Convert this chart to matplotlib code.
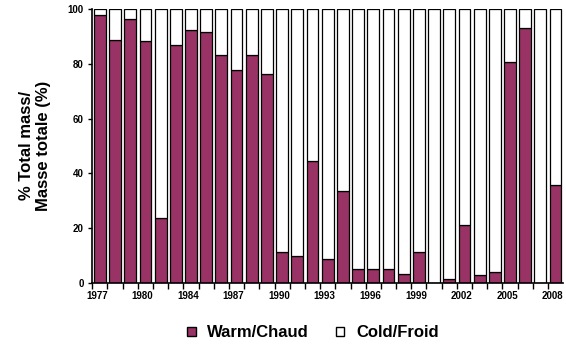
import matplotlib
matplotlib.use("Agg")
import matplotlib.pyplot as plt
import matplotlib.transforms as mtransforms
import numpy as np
from matplotlib.patches import Patch

years = ["1977", "1978", "1979", "1980", "1981", "1983", "1984", "1985",
         "1986", "1987", "1988", "1989", "1990", "1991", "1992", "1993",
         "1994", "1995", "1996", "1997", "1998", "1999", "2000", "2001",
         "2002", "2003", "2004", "2005", "2006", "2007", "2008"]
warm = [97.7, 88.7, 96.2, 88.2, 23.8, 86.7, 92.2, 91.7, 83.3, 77.7, 83.3,
        76.2, 11.2, 9.7, 44.6, 8.9, 33.6, 4.9, 4.9, 4.9, 3.2, 11.2, 0.0,
        1.3, 21.2, 2.8, 3.8, 80.8, 93.2, 0.0, 35.6]
cold = [100 - w for w in warm]
shown_labels = ["1977", "1980", "1984", "1987", "1990", "1993", "1996",
                "1999", "2002", "2005", "2008"]

plt.rcParams['font.family'] = ['Liberation Sans', 'DejaVu Sans']
plt.rcParams['font.weight'] = 'bold'

fig = plt.figure(figsize=(5.66, 3.45), dpi=100)
ax = fig.add_axes([0.163, 0.18, 0.832, 0.794])

x = np.arange(len(years))
ax.bar(x, warm, width=0.78, color='#993366', edgecolor='black', linewidth=0.9)
ax.bar(x, cold, bottom=warm, width=0.78, color='white', edgecolor='black', linewidth=0.9)

ax.set_xlim(-0.5, len(years) - 0.5)
ax.set_ylim(0, 100)
ax.set_yticks(range(0, 101, 20))
ax.tick_params(axis='y', labelsize=7, length=3, width=1, pad=3)

ax.set_xticks(x - 0.5)
ax.set_xticklabels([])
ax.tick_params(axis='x', which='major', length=4, width=1)
lab_pos = [years.index(y) for y in shown_labels]
ax.set_xticks(lab_pos, minor=True)
ax.set_xticklabels(shown_labels, minor=True, fontsize=7)
ax.tick_params(axis='x', which='minor', length=0, pad=6)
# labels sit a little left of the bar centres, as in the original
shift = mtransforms.ScaledTranslation(-3 / 100, 0, fig.dpi_scale_trans)
for lbl in ax.get_xticklabels(minor=True):
    lbl.set_transform(lbl.get_transform() + shift)

for s in ['top', 'right']:
    ax.spines[s].set_visible(False)
ax.spines['left'].set_linewidth(1.2)
ax.spines['bottom'].set_linewidth(1.2)

ax.set_ylabel("% Total mass/\nMasse totale (%)", fontsize=12, fontweight='bold', labelpad=12)

handles = [Patch(facecolor='#993366', edgecolor='black', label='Warm/Chaud'),
           Patch(facecolor='white', edgecolor='black', label='Cold/Froid')]
fig.legend(handles=handles, loc='center', bbox_to_anchor=(0.553, 0.035), ncol=2,
           frameon=False, fontsize=12, handlelength=0.5, handleheight=0.5,
           handletextpad=0.7, columnspacing=1.6)

fig.savefig("out.png", dpi=100)
